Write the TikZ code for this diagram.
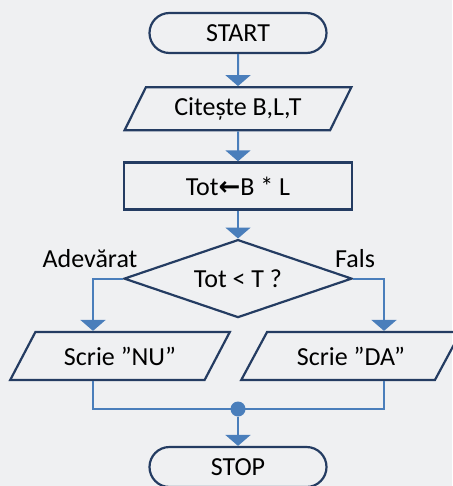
\documentclass[tikz,border=0pt]{standalone}
\usepackage{fontspec}
\setmainfont{Carlito}
\newfontfamily\arrowfont{DejaVu Sans}
\usetikzlibrary{shapes.geometric,shapes.misc}
\usetikzlibrary{arrows.meta}
\usetikzlibrary{positioning}
\definecolor{outline}{RGB}{36,60,98}
\definecolor{flowblue}{RGB}{74,126,187}
\definecolor{paper}{RGB}{239,240,242}

\begin{document}
\begin{tikzpicture}[x=1pt,y=-1pt,node distance=32pt,
          font=\fontsize{26}{30}\selectfont,
          term/.style={draw=outline,line width=2.2pt,rounded rectangle,minimum width=177pt,minimum height=40pt,inner sep=0pt},
          io/.style={draw=outline,line width=2.2pt,trapezium,trapezium stretches=true,inner sep=0pt},
          proc/.style={draw=outline,line width=2.2pt,rectangle,minimum width=228pt,minimum height=47pt,inner sep=0pt},
          decide/.style={draw=outline,line width=2.2pt,diamond,aspect=2.9,minimum width=228pt,minimum height=78pt,inner sep=0pt},
          flow/.style={draw=flowblue,line width=2pt,-{Triangle[width=25pt,length=11pt]}},
          mergeline/.style={draw=flowblue,line width=1.4pt}]
          \path[use as bounding box,fill=paper] (0,0) rectangle (452,486);
          \node[term] (start) at (238,33) {START};
          \node[io,below=of start,trapezium left angle=57,trapezium right angle=123,minimum width=227pt,minimum height=43pt] (read) {Citește B,L,T};
          \node[proc,below=30pt of read] (calc) {Tot{\arrowfont\bfseries ←}B * L};
          \node[decide,below=28pt of calc] (test) {Tot < T ?};
          \node[io,trapezium left angle=48,trapezium right angle=132,minimum width=220pt,minimum height=48pt] (nu) at (120,356) {Scrie ”NU”};
          \node[io,trapezium left angle=48,trapezium right angle=132,minimum width=220pt,minimum height=48pt] (da) at (351,356) {Scrie ”DA”};
          \node[anchor=base] (yes) at (90,267) {Adevărat};
          \node[anchor=base] (no) at (355,267) {Fals};
          \node[circle,fill=flowblue,minimum size=15pt,inner sep=0pt] (dot) at (238,409) {};
          \node[term] (stop) at (238,467) {STOP};
          \coordinate (left) at (93,0);
          \coordinate (right) at (384,0);
          \draw[flow] (start) -- (read);
          \draw[flow] (read) -- (calc);
          \draw[flow] (calc) -- (test);
          \draw[flow] (test.west) -| (left |- nu.north);
          \draw[flow] (test.east) -| (right |- da.north);
          \draw[mergeline] (left |- nu.south) -- (left |- dot) -- (right |- dot) -- (right |- da.south);
          \draw[flow] (dot) -- (stop);
        \end{tikzpicture}
\end{document}
